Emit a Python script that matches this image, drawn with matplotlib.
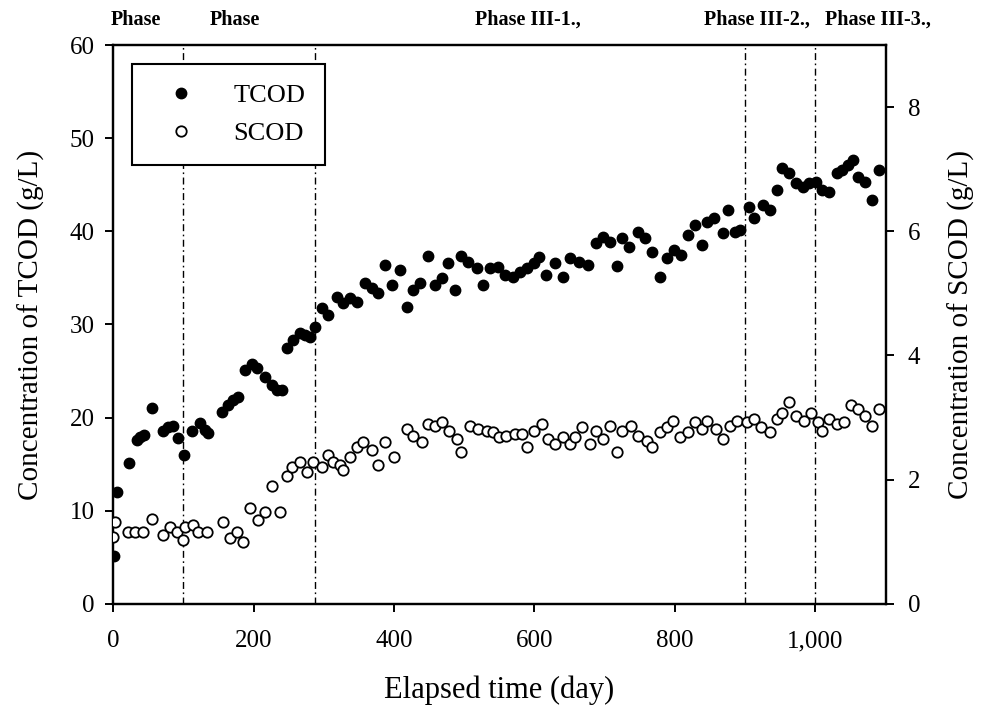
import matplotlib
matplotlib.use("Agg")
import matplotlib.pyplot as plt
from matplotlib.lines import Line2D
from matplotlib.ticker import FuncFormatter
import matplotlib.transforms as mtransforms

# ---------------- data ----------------
tcod_day = [2, 5, 23, 34, 39, 44, 55, 71, 78, 85, 92, 101, 112, 124, 131, 135, 155, 164, 171, 178,
            188, 198, 205, 216, 226, 233, 240, 247, 256, 266, 273, 280, 287, 297, 306, 319, 327, 337, 347, 358,
            368, 377, 387, 397, 408, 418, 427, 437, 448, 458, 468, 477, 487, 496, 505, 518, 527, 536, 548, 558,
            569, 579, 590, 600, 607, 617, 629, 640, 650, 664, 676, 688, 697, 707, 718, 725, 735, 747, 757, 768,
            778, 788, 799, 809, 818, 828, 839, 846, 856, 868, 876, 885, 892, 906, 913, 925, 935, 945, 953, 963,
            973, 982, 991, 1001, 1010, 1020, 1030, 1038, 1046, 1053, 1060, 1070, 1080, 1091]
tcod_val = [5.1, 12.0, 15.1, 17.6, 17.9, 18.1, 21.0, 18.5, 19.0, 19.1, 17.8, 16.0, 18.6, 19.4, 18.7, 18.3, 20.6, 21.4, 21.9, 22.2,
            25.1, 25.8, 25.3, 24.4, 23.5, 23.0, 23.0, 27.5, 28.3, 29.1, 28.9, 28.7, 29.7, 31.8, 31.0, 33.0, 32.3, 32.8, 32.4, 34.5,
            33.9, 33.4, 36.4, 34.2, 35.8, 31.9, 33.7, 34.5, 37.3, 34.2, 35.0, 36.6, 33.7, 37.3, 36.7, 36.1, 34.2, 36.1, 36.2, 35.3,
            35.1, 35.6, 36.1, 36.6, 37.2, 35.3, 36.6, 35.1, 37.1, 36.7, 36.4, 38.7, 39.4, 38.9, 36.3, 39.3, 38.3, 39.9, 39.3, 37.8,
            35.1, 37.1, 38.0, 37.5, 39.6, 40.7, 38.5, 41.0, 41.4, 39.8, 42.3, 39.9, 40.1, 42.6, 41.4, 42.8, 42.3, 44.4, 46.8, 46.3,
            45.2, 44.8, 45.2, 45.3, 44.4, 44.2, 46.3, 46.6, 47.1, 47.7, 45.8, 45.3, 43.4, 46.6]

scod_day = [0, 3, 21, 31, 43, 55, 71, 81, 91, 100, 102, 114, 121, 134, 156, 166, 176, 185, 195, 206,
            216, 226, 238, 247, 255, 266, 276, 285, 297, 306, 313, 323, 327, 337, 347, 356, 368, 377, 387, 400,
            418, 427, 440, 448, 458, 468, 479, 489, 496, 508, 519, 532, 541, 550, 560, 572, 582, 590, 600, 610,
            619, 629, 640, 650, 657, 667, 679, 688, 697, 707, 718, 725, 738, 747, 760, 768, 778, 788, 797, 807,
            818, 828, 838, 846, 859, 868, 878, 889, 902, 913, 923, 935, 945, 953, 963, 973, 984, 994, 1003, 1010,
            1020, 1030, 1041, 1051, 1060, 1070, 1080, 1091]
scod_val = [1.08, 1.32, 1.15, 1.15, 1.15, 1.36, 1.11, 1.24, 1.16, 1.03, 1.24, 1.27, 1.16, 1.15, 1.32, 1.06, 1.15, 1.00, 1.55, 1.35,
            1.47, 1.89, 1.48, 2.05, 2.20, 2.28, 2.13, 2.28, 2.20, 2.40, 2.29, 2.24, 2.16, 2.36, 2.52, 2.60, 2.48, 2.24, 2.60, 2.36,
            2.81, 2.70, 2.60, 2.89, 2.86, 2.92, 2.78, 2.65, 2.44, 2.86, 2.81, 2.78, 2.76, 2.68, 2.70, 2.73, 2.73, 2.53, 2.78, 2.89,
            2.65, 2.57, 2.68, 2.57, 2.68, 2.84, 2.57, 2.78, 2.65, 2.86, 2.44, 2.78, 2.86, 2.70, 2.62, 2.53, 2.76, 2.84, 2.94, 2.68,
            2.76, 2.92, 2.81, 2.94, 2.81, 2.65, 2.86, 2.94, 2.92, 2.97, 2.84, 2.76, 2.97, 3.08, 3.25, 3.02, 2.94, 3.08, 2.92, 2.78,
            2.97, 2.89, 2.92, 3.21, 3.13, 3.02, 2.86, 3.13]

phase_bounds = [100, 288, 900, 1000]
phase_labels = ["Phase", "Phase", "Phase III-1.,", "Phase III-2.,", "Phase III-3.,"]
phase_label_x = [-3, 138, 516, 841, 1014]

x_ticks = [0, 200, 400, 600, 800, 1000]
left_ticks = [0, 10, 20, 30, 40, 50, 60]
right_ticks = [0, 2, 4, 6, 8]

# ---------------- style ----------------
plt.rcParams['font.family'] = ['Liberation Serif', 'DejaVu Serif']

fig = plt.figure(figsize=(9.83, 7.17), dpi=100)
ax = fig.add_axes([0.115, 0.158, 0.786, 0.779])
ax2 = ax.twinx()

for b in phase_bounds:
    ax.axvline(b, color='black', lw=1.0, linestyle=(0, (5, 2.5, 1.2, 2.5)), zorder=1)

ax.plot(tcod_day, tcod_val, linestyle='none', marker='o', ms=7.5, mfc='black', mec='black', zorder=3)
ax2.plot(scod_day, scod_val, linestyle='none', marker='o', ms=7.5, mfc='white', mec='black', mew=1.3, zorder=3)

ax.set_xlim(0, 1100)
ax.set_ylim(0, 60)
ax2.set_ylim(0, 9)
ax.set_xticks(x_ticks)
ax.xaxis.set_major_formatter(FuncFormatter(lambda v, p: f"{int(v):,}"))
ax.set_yticks(left_ticks)
ax2.set_yticks(right_ticks)

for a in (ax, ax2):
    for s in a.spines.values():
        s.set_linewidth(1.6)
    a.tick_params(direction='out', length=6, width=1.4, labelsize=18, colors='black')

ax.tick_params(axis='x', pad=13)
ax.tick_params(axis='y', pad=7)
ax2.tick_params(axis='y', pad=10)
ax.set_xlabel("Elapsed time (day)", fontsize=22, labelpad=17)
ax.set_ylabel("Concentration of TCOD (g/L)", fontsize=21, labelpad=18)
ax2.set_ylabel("Concentration of SCOD (g/L)", fontsize=21, labelpad=20)

handles = [Line2D([], [], linestyle='none', marker='o', ms=7.5, mfc='black', mec='black'),
           Line2D([], [], linestyle='none', marker='o', ms=7.5, mfc='white', mec='black', mew=1.3)]
leg = ax2.legend(handles, ["TCOD", "SCOD"], loc='upper left', bbox_to_anchor=(0.0246, 0.966),
                 borderaxespad=0, frameon=True, fancybox=False, framealpha=1, edgecolor='black',
                 fontsize=19, handlelength=2.2, handletextpad=0.9, borderpad=0.75, labelspacing=0.55)
leg.get_frame().set_linewidth(1.5)
leg.set_zorder(10)

trans = mtransforms.blended_transform_factory(ax.transData, fig.transFigure)
for lbl, xp in zip(phase_labels, phase_label_x):
    fig.text(xp, 0.972, lbl, transform=trans, fontsize=14.5, fontweight='bold', ha='left', va='center')

fig.savefig("out.png", dpi=100)
